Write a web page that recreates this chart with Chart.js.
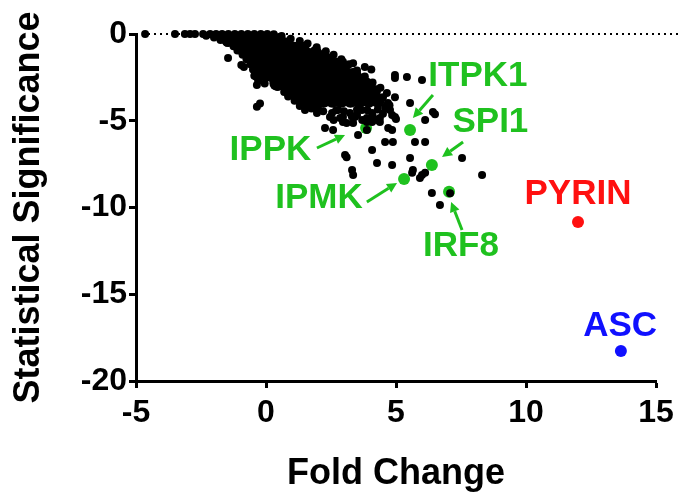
<!DOCTYPE html>
<html><head><meta charset="utf-8">
<script src="https://cdn.jsdelivr.net/npm/chart.js@4.4.0/dist/chart.umd.min.js"></script>
<style>html,body{margin:0;padding:0;background:#fff;}#wrap{width:685px;height:502px;}</style>
</head><body><div id="wrap"><canvas id="c" width="685" height="502"></canvas></div>
<script>
// ---------- DATA ----------
const xTicks = [-5, 0, 5, 10, 15];
const yTicks = [-20, -15, -10, -5, 0];
const xTitle = 'Fold Change';
const yTitle = 'Statistical Significance';

// dense body of the gene cloud (overlapping points)
const coreGenes = [
  [-1.45,-0.35],[-1.1,-0.35],[-0.8,-0.35],[-0.5,-0.35],[-0.2,-0.35],[0.15,-0.35],[0.5,-0.35],
  [-0.9,-0.85],[-0.6,-0.85],[-0.3,-0.85],[0.05,-0.85],[0.4,-0.85],[0.75,-0.85],[1.1,-0.85],[1.4,-0.85],
  [-0.55,-1.35],[-0.2,-1.35],[0.15,-1.35],[0.5,-1.35],[0.85,-1.35],[1.2,-1.35],[1.55,-1.35],[1.9,-1.35],[2.2,-1.35],
  [-0.3,-1.85],[0.05,-1.85],[0.4,-1.85],[0.75,-1.85],[1.1,-1.85],[1.45,-1.85],[1.8,-1.85],[2.15,-1.85],[2.5,-1.85],[2.8,-1.85],
  [-0.3,-2.35],[0.0,-2.35],[0.35,-2.35],[0.7,-2.35],[1.05,-2.35],[1.4,-2.35],[1.75,-2.35],[2.1,-2.35],[2.45,-2.35],[2.8,-2.35],[3.15,-2.35],[3.4,-2.35],
  [0.4,-2.85],[0.65,-2.85],[1.0,-2.85],[1.35,-2.85],[1.7,-2.85],[2.05,-2.85],[2.4,-2.85],[2.75,-2.85],[3.1,-2.85],[3.45,-2.85],[3.8,-2.85],
  [1.0,-3.35],[1.35,-3.35],[1.7,-3.35],[2.05,-3.35],[2.4,-3.35],[2.75,-3.35],[3.1,-3.35],[3.45,-3.35],[3.8,-3.35],[4.15,-3.35],
  [1.5,-3.85],[1.85,-3.85],[2.2,-3.85],[2.55,-3.85],[2.9,-3.85],[3.25,-3.85],[3.6,-3.85],[3.95,-3.85],[4.3,-3.85],
  // in-between rows
  [-1.0,-0.6],[-0.4,-0.6],[0.2,-0.6],[0.8,-0.6],
  [-0.4,-1.1],[0.25,-1.1],[0.9,-1.1],[1.5,-1.1],[1.9,-1.1],
  [-0.1,-1.6],[0.6,-1.6],[1.3,-1.6],[2.0,-1.6],[2.45,-1.6],
  [0.2,-2.1],[0.9,-2.1],[1.6,-2.1],[2.3,-2.1],[2.95,-2.1],
  [0.5,-2.6],[1.2,-2.6],[1.9,-2.6],[2.6,-2.6],[3.3,-2.6],
  [0.85,-3.1],[1.55,-3.1],[2.25,-3.1],[2.95,-3.1],[3.65,-3.1],
  [1.25,-3.6],[1.95,-3.6],[2.65,-3.6],[3.35,-3.6],[4.05,-3.6]
];

// individual genes
const genes = [
  // along zero line
  [-4.65,0],[-3.5,0],[-3.12,0],[-2.92,0],[-2.73,0],[-2.42,0],[-2.15,0],[-1.92,0],[-1.69,0],[-1.45,0],
  [-1.2,0],[-0.95,0],[-0.7,0],[-0.45,0],[-0.2,0],[0.05,0],[0.3,-0.02],[-2.3,-0.1],
  // upper edge of the cloud
  [0.6,-0.12],[0.95,-0.27],[1.3,-0.4],[1.6,-0.55],[1.95,-0.77],[2.3,-1.0],[2.6,-1.2],[2.9,-1.45],
  [3.2,-1.75],[3.5,-2.1],[3.8,-2.45],[4.1,-2.8],[4.4,-3.1],[4.65,-3.4],[4.5,-3.65],
  [2.45,-1.35],[2.75,-1.6],[3.05,-1.9],[3.35,-2.2],[3.65,-2.5],[3.95,-2.85],[4.25,-3.2],
  // just above the upper edge
  [2.96,-1.6],[3.35,-1.68],[3.8,-1.9],[4.05,-2.05],[4.96,-2.36],[4.96,-2.54],[5.42,-2.48],[6.0,-2.65],
  // lower-left edge
  [-2.0,-0.2],[-1.75,-0.35],[-1.5,-0.5],[-1.25,-0.7],[-1.1,-0.95],[-0.9,-1.2],[-0.75,-1.45],[-0.6,-1.75],
  [-0.5,-2.05],[-0.45,-2.4],[-0.3,-2.7],[-0.05,-2.85],[0.27,-2.65],[0.45,-3.05],[0.7,-3.35],[0.85,-3.6],
  [1.1,-3.85],[1.3,-4.15],[1.5,-4.38],[1.75,-4.3],[1.96,-4.55],[2.2,-4.45],[2.46,-4.78],[2.6,-4.96],
  [2.85,-4.84],[3.1,-5.13],[3.3,-4.75],[3.5,-4.67],[3.7,-4.95],[3.88,-5.07],[4.1,-4.7],[4.27,-4.96],
  [4.5,-4.6],[4.65,-4.3],[4.77,-4.38],[4.85,-4.67],[3.0,-4.45],[2.7,-4.4],[3.5,-4.35],[3.9,-4.4],
  [4.3,-4.35],[2.0,-4.2],[1.6,-4.05],[1.58,-3.98],[1.88,-4.27],[2.27,-3.98],[2.54,-4.55],[2.77,-4.38],
  [2.96,-4.78],[3.23,-4.55],[3.42,-4.78],[3.69,-4.38],[3.88,-4.84],[4.08,-4.55],[4.38,-4.84],[4.58,-4.21],[4.69,-3.98],
  // scattered below-left
  [-1.46,-1.38],[-0.95,-1.79],[-0.85,-1.9],[-0.35,-2.94],[-0.35,-4.2],[-0.23,-4.0],
  // scattered right / below
  [4.96,-3.65],[4.75,-4.1],[5.54,-3.98],[6.42,-4.5],[6.5,-4.62],[6.12,-4.96],[4.96,-4.78],[5.0,-4.9],
  [4.7,-5.42],[4.85,-5.53],[4.08,-5.07],[4.38,-5.07],[2.27,-5.42],[2.58,-5.53],[2.96,-5.07],[3.35,-5.13],
  [3.54,-5.82],[3.88,-5.53],[4.58,-6.22],[4.88,-6.22],[5.73,-6.22],[6.12,-6.22],[4.08,-6.69],
  [3.04,-6.97],[3.1,-7.1],[4.27,-7.44],[4.85,-7.55],[5.54,-7.15],[3.31,-7.84],[3.35,-8.13],
  [5.65,-7.84],[5.62,-8.0],[6.0,-8.13],[6.12,-8.0],[5.92,-8.3],[7.54,-7.15],[8.31,-8.13],
  [6.38,-9.16],[7.08,-9.18],[6.69,-9.86]
];

// highlighted genes
const greenNames = ['ITPK1', 'SPI1', 'IPPK', 'IPMK', 'IRF8'];
const greenX = [5.54, 6.38, 3.85, 5.31, 7.04];
const greenY = [-5.53, -7.55, -5.42, -8.36, -9.09];
const pyrin = { name: 'PYRIN', x: 12.0, y: -10.84 };
const asc = { name: 'ASC', x: 13.65, y: -18.27 };

// label anchors (data units): text centre, arrow start, arrow tip
const greenLabelX = [8.15, 8.63, 0.17, 2.04, 7.5];
const greenLabelY = [-2.36, -5.04, -6.63, -9.4, -12.16];
const arrowFromX = [6.42, 7.58, 1.96, 3.88, 7.54];
const arrowFromY = [-3.52, -6.22, -6.57, -9.68, -11.3];
const arrowToX = [5.65, 6.77, 3.04, 5.04, 7.12];
const arrowToY = [-4.84, -7.09, -5.82, -8.59, -9.68];
const redLabel = [12.0, -9.16];
const blueLabel = [13.62, -16.77];

// ---------- STYLE ----------
const FONT = '"Liberation Sans", Arial, Helvetica, sans-serif';
const GREEN = '#1fc11f';
const RED = '#ff1010';
const BLUE = '#1010ff';

const toPts = arr => arr.map(p => ({ x: p[0], y: p[1] }));

const annot = {
  id: 'annot',
  beforeDatasetsDraw(chart) {
    const { ctx, chartArea, scales: { x, y } } = chart;
    const py = y.getPixelForValue(0);
    ctx.save();
    ctx.strokeStyle = '#000';
    ctx.lineWidth = 2;
    ctx.setLineDash([2, 4]);
    ctx.beginPath();
    ctx.moveTo(chartArea.left + 6, py);
    ctx.lineTo(chart.width - 3, py);
    ctx.stroke();
    ctx.restore();
  },
  afterDatasetsDraw(chart) {
    const { ctx, scales: { x, y } } = chart;
    ctx.save();
    for (let i = 0; i < greenNames.length; i++) {
      const x1 = x.getPixelForValue(arrowFromX[i]), y1 = y.getPixelForValue(arrowFromY[i]);
      const x2 = x.getPixelForValue(arrowToX[i]), y2 = y.getPixelForValue(arrowToY[i]);
      const ang = Math.atan2(y2 - y1, x2 - x1);
      const hl = 10, hw = 5;
      const bx = x2 - hl * Math.cos(ang), by = y2 - hl * Math.sin(ang);
      ctx.strokeStyle = GREEN; ctx.fillStyle = GREEN; ctx.lineWidth = 3;
      ctx.beginPath(); ctx.moveTo(x1, y1); ctx.lineTo(bx, by); ctx.stroke();
      ctx.beginPath();
      ctx.moveTo(x2, y2);
      ctx.lineTo(bx + hw * Math.sin(ang), by - hw * Math.cos(ang));
      ctx.lineTo(bx - hw * Math.sin(ang), by + hw * Math.cos(ang));
      ctx.closePath(); ctx.fill();
    }
    ctx.font = 'bold 35px ' + FONT;
    ctx.textAlign = 'center';
    ctx.textBaseline = 'middle';
    ctx.fillStyle = GREEN;
    for (let i = 0; i < greenNames.length; i++) {
      ctx.fillText(greenNames[i], x.getPixelForValue(greenLabelX[i]), y.getPixelForValue(greenLabelY[i]) + 1);
    }
    ctx.fillStyle = RED;
    ctx.fillText(pyrin.name, x.getPixelForValue(redLabel[0]), y.getPixelForValue(redLabel[1]) + 1);
    ctx.fillStyle = BLUE;
    ctx.fillText(asc.name, x.getPixelForValue(blueLabel[0]), y.getPixelForValue(blueLabel[1]) + 1);
    ctx.restore();
  }
};

const axisCommon = {
  grid: { display: true, drawOnChartArea: false, drawTicks: true, tickLength: 7, tickWidth: 3, tickColor: '#000' },
  border: { display: true, color: '#000', width: 3 },
};

new Chart(document.getElementById('c'), {
  type: 'scatter',
  data: {
    datasets: [
      { label: 'genes', data: toPts(genes), backgroundColor: '#000', borderWidth: 0, pointRadius: 4, clip: false, order: 1 },
      { label: 'core', data: toPts(coreGenes), backgroundColor: '#000', borderWidth: 0, pointRadius: 7, clip: false, order: 2 },
      { label: 'green', data: greenX.map((v, i) => ({ x: v, y: greenY[i] })), backgroundColor: GREEN, borderWidth: 0, pointRadius: 6, clip: false, order: 3 },
      { label: 'PYRIN', data: [{ x: pyrin.x, y: pyrin.y }], backgroundColor: RED, borderWidth: 0, pointRadius: 6, clip: false, order: 4 },
      { label: 'ASC', data: [{ x: asc.x, y: asc.y }], backgroundColor: BLUE, borderWidth: 0, pointRadius: 6, clip: false, order: 5 }
    ]
  },
  options: {
    responsive: false,
    animation: false,
    events: [],
    devicePixelRatio: 1,
    layout: { padding: { top: 34, right: 29, left: 0, bottom: 0 } },
    plugins: { legend: { display: false }, tooltip: { enabled: false } },
    scales: {
      x: {
        ...axisCommon,
        type: 'linear', min: xTicks[0], max: xTicks[xTicks.length - 1],
        afterBuildTicks: s => { s.ticks = xTicks.map(v => ({ value: v })); },
        afterFit: s => { s.height = 121; },
        ticks: { color: '#000', font: { family: FONT, size: 32, weight: 'bold' }, padding: 6, maxRotation: 0, autoSkip: false },
        title: { display: true, text: xTitle, color: '#000', font: { family: FONT, size: 36, weight: 'bold' }, padding: { top: 0, bottom: 6 } }
      },
      y: {
        ...axisCommon,
        type: 'linear', min: yTicks[0], max: yTicks[yTicks.length - 1],
        afterBuildTicks: s => { s.ticks = yTicks.map(v => ({ value: v })); },
        afterFit: s => { s.width = 136; },
        ticks: { color: '#000', font: { family: FONT, size: 32, weight: 'bold' }, padding: 2, autoSkip: false },
        title: { display: true, text: yTitle, color: '#000', font: { family: FONT, size: 36, weight: 'bold' }, padding: { top: 7, bottom: 0 } }
      }
    }
  },
  plugins: [annot]
});
</script>
</body></html>
